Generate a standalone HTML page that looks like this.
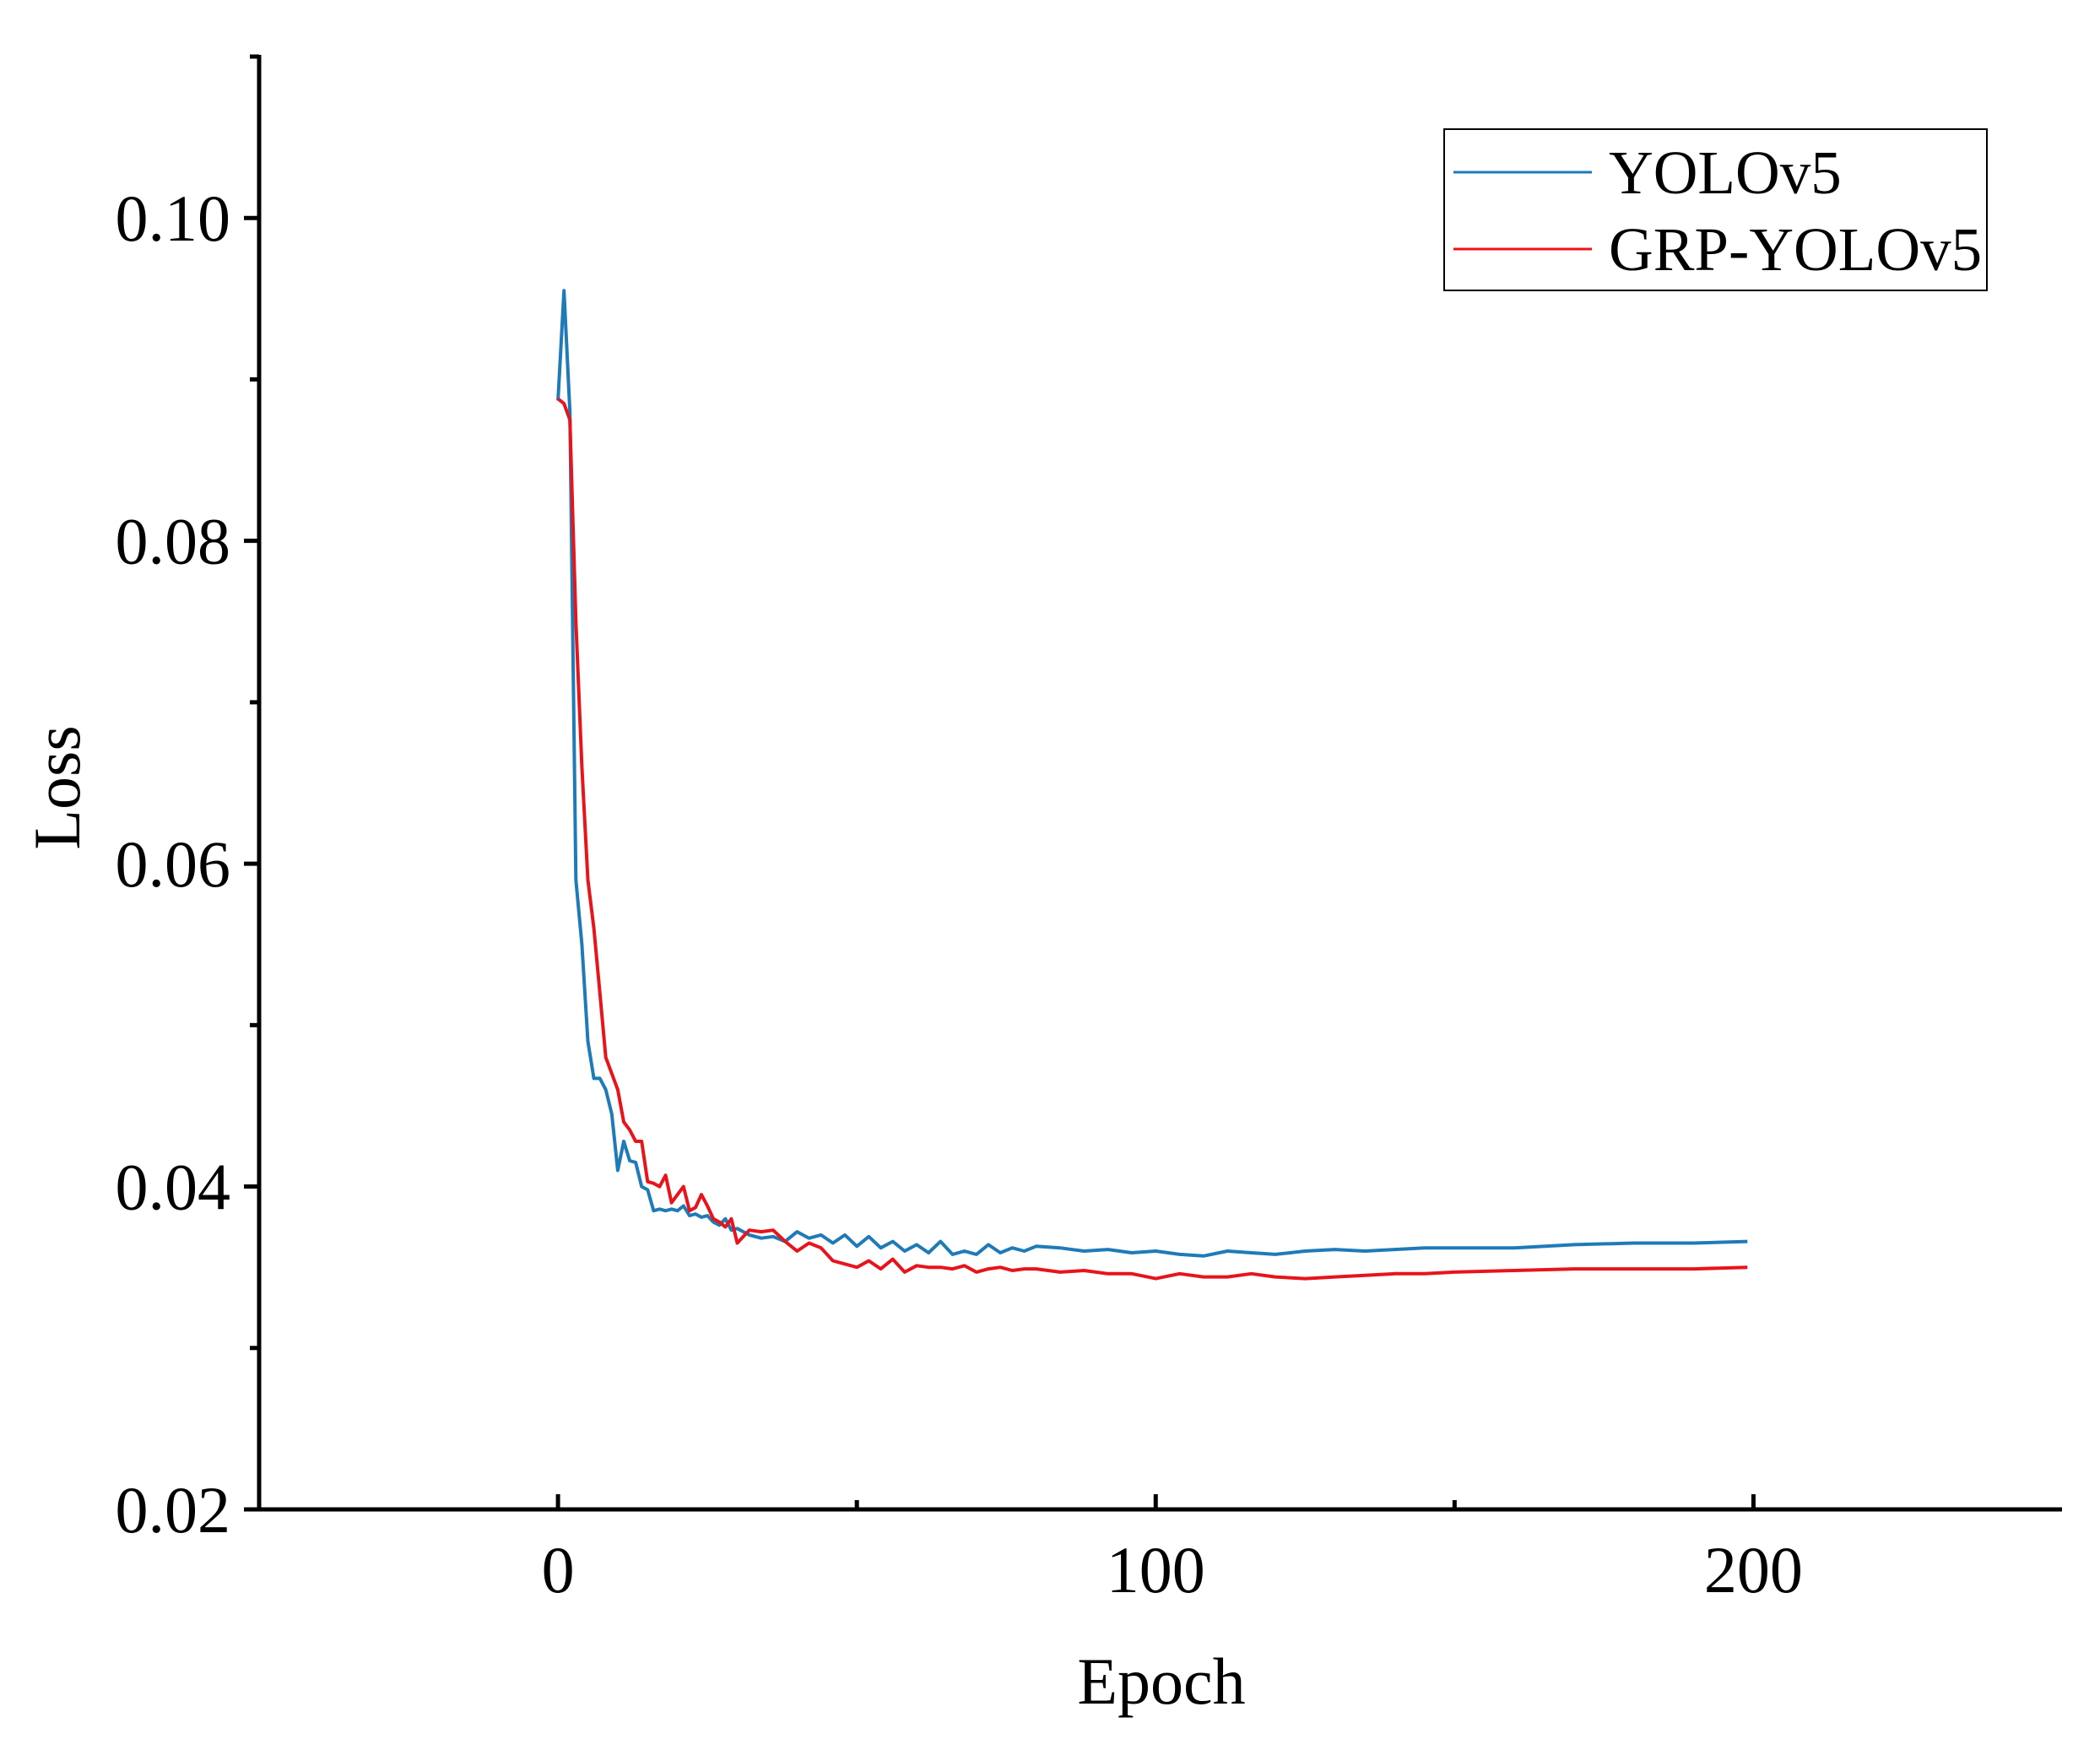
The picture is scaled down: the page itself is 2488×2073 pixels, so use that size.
<!DOCTYPE html>
<html><head><meta charset="utf-8"><style>
html,body{margin:0;padding:0;background:#fff;}
svg{display:block;font-family:"Liberation Serif",serif;}
</style></head><body>
<svg id="chart" width="2488" height="2073" viewBox="0 0 2488 2073" xmlns="http://www.w3.org/2000/svg">
<rect width="2488" height="2073" fill="#fff"/>
<g id="axes"></g>
<g id="series"></g>
<g id="legend">
  <rect x="1711" y="153" width="643" height="191" fill="#fff" stroke="#000" stroke-width="2"/>
  <line x1="1722" y1="204" x2="1886" y2="204" stroke="#1f7ab8" stroke-width="3"/>
  <text x="1906" y="229" font-size="73">YOLOv5</text>
  <line x1="1722" y1="295" x2="1886" y2="295" stroke="#e8141c" stroke-width="3"/>
  <text x="1906" y="320" font-size="73">GRP-YOLOv5</text>
</g>
<text x="1376" y="2018" font-size="78" text-anchor="middle">Epoch</text>
<text transform="translate(94,933) rotate(-90)" font-size="78" text-anchor="middle">Loss</text>
</svg>
<script>
const epochs = [0,1,2,3,4,5,6,7,8,9,10,11,12,13,14,15,16,17,18,19,20,21,22,23,24,25,26,27,28,29,30,32,34,36,38,40,42,44,46,48,50,52,54,56,58,60,62,64,66,68,70,72,74,76,78,80,84,88,92,96,100,104,108,112,116,120,125,130,135,140,145,150,160,170,180,190,199];
const yolov5 = [0.0887,0.0955,0.0880,0.0590,0.0550,0.0490,0.0467,0.0467,0.0460,0.0445,0.0410,0.0428,0.0416,0.0415,0.0400,0.0398,0.0385,0.0386,0.0385,0.0386,0.0385,0.0388,0.0382,0.0383,0.0381,0.0382,0.0378,0.0376,0.0380,0.0373,0.0374,0.0370,0.0368,0.0369,0.0366,0.0372,0.0368,0.0370,0.0365,0.0370,0.0363,0.0369,0.0362,0.0366,0.0360,0.0364,0.0359,0.0366,0.0358,0.0360,0.0358,0.0364,0.0359,0.0362,0.0360,0.0363,0.0362,0.0360,0.0361,0.0359,0.0360,0.0358,0.0357,0.0360,0.0359,0.0358,0.0360,0.0361,0.0360,0.0361,0.0362,0.0362,0.0362,0.0364,0.0365,0.0365,0.0366];
const grp = [0.0888,0.0885,0.0875,0.0750,0.0660,0.0590,0.0560,0.0520,0.0480,0.0470,0.0460,0.0440,0.0435,0.0428,0.0428,0.0403,0.0402,0.0400,0.0407,0.0390,0.0395,0.0400,0.0385,0.0387,0.0395,0.0388,0.0380,0.0378,0.0375,0.0380,0.0365,0.0373,0.0372,0.0373,0.0366,0.0360,0.0365,0.0362,0.0354,0.0352,0.0350,0.0354,0.0349,0.0355,0.0347,0.0351,0.0350,0.0350,0.0349,0.0351,0.0347,0.0349,0.0350,0.0348,0.0349,0.0349,0.0347,0.0348,0.0346,0.0346,0.0343,0.0346,0.0344,0.0344,0.0346,0.0344,0.0343,0.0344,0.0345,0.0346,0.0346,0.0347,0.0348,0.0349,0.0349,0.0349,0.0350];
const yTicks = [0.02,0.04,0.06,0.08,0.10];
const yTickLabels = ["0.02","0.04","0.06","0.08","0.10"];
const yMinor = [0.03,0.05,0.07,0.09,0.11];
const xTicks = [0,100,200];
const xTickLabels = ["0","100","200"];
const xMinor = [50,150];

const X0=307, X1=2440, Y0=1788, Y1=67;
const xMin=-50, xMax=251.2, yMin=0.02, yMax=0.110;
const sx = v => X0 + (v - xMin) / (xMax - xMin) * (X1 - X0);
const sy = v => Y0 - (v - yMin) / (yMax - yMin) * (Y0 - Y1);
const NS="http://www.w3.org/2000/svg";
function mk(tag, attrs, parent){const e=document.createElementNS(NS,tag);for(const k in attrs)e.setAttribute(k,attrs[k]);parent.appendChild(e);return e;}
const ax=document.getElementById('axes');
let e=mk('line',{x1:X0,y1:Y0,x2:X1+3,y2:Y0,stroke:'#000','stroke-width':5},ax);


e=mk('line',{x1:X0,y1:Y0+2,x2:X0,y2:Y1-2,stroke:'#000','stroke-width':5},ax);


yTicks.forEach((v,i)=>{
  const y=sy(v);
  let t=mk('line',{x1:X0-18,y1:y,x2:X0,y2:y,stroke:'#000','stroke-width':5},ax);
  
  
  let l=mk('text',{x:273,y:y+27,'font-size':78,'text-anchor':'end'},ax);
  l.textContent=yTickLabels[i];
  
  
});
yMinor.forEach(v=>{
  const y=sy(v);
  let t=mk('line',{x1:X0-11,y1:y,x2:X0,y2:y,stroke:'#000','stroke-width':5},ax);
  
  
});
xTicks.forEach((v,i)=>{
  const x=sx(v);
  let t=mk('line',{x1:x,y1:Y0-18,x2:x,y2:Y0,stroke:'#000','stroke-width':5},ax);
  
  
  let l=mk('text',{x:x,y:1886,'font-size':78,'text-anchor':'middle'},ax);
  l.textContent=xTickLabels[i];
  
  
});
xMinor.forEach(v=>{
  const x=sx(v);
  let t=mk('line',{x1:x,y1:Y0-11,x2:x,y2:Y0,stroke:'#000','stroke-width':5},ax);
  
  
});
const sg=document.getElementById('series');
function pts(arr){return epochs.map((ep,i)=>sx(ep).toFixed(1)+','+sy(arr[i]).toFixed(1)).join(' ');}
let p=mk('polyline',{points:pts(yolov5),fill:'none',stroke:'#1f7ab8','stroke-width':4,'stroke-linejoin':'round'},sg);


p=mk('polyline',{points:pts(grp),fill:'none',stroke:'#e8141c','stroke-width':4,'stroke-linejoin':'round'},sg);


</script>
</body></html>
